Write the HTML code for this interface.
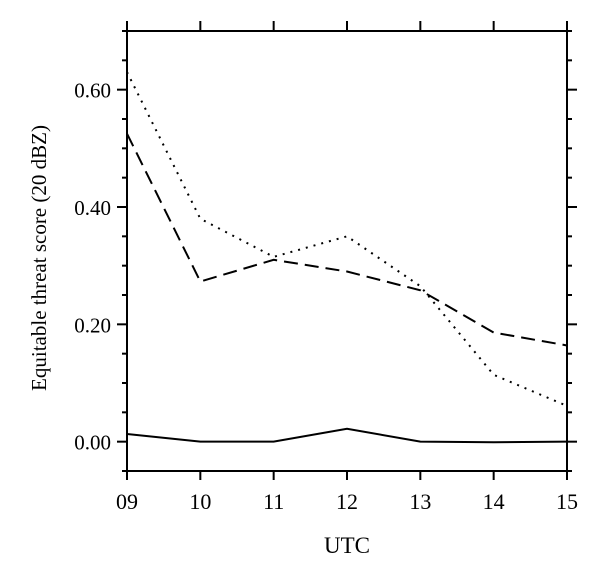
<!DOCTYPE html>
<html><head><meta charset="utf-8"><style>
body{margin:0;background:#fff;}
text{font-family:"Liberation Serif",serif;fill:#000;}
</style></head><body>
<svg width="600" height="578" viewBox="0 0 600 578">
<g id="axes"></g>
<g id="series"></g>
<text transform="translate(46,258) rotate(-90)" text-anchor="middle" style="font-size:21px">Equitable threat score (20 dBZ)</text>
<text x="347" y="553" text-anchor="middle" style="font-size:23px">UTC</text>
</svg>
<script>
const categories=["09","10","11","12","13","14","15"];
const dotted=[0.63,0.38,0.315,0.35,0.265,0.114,0.061];
const dashed=[0.525,0.273,0.31,0.29,0.258,0.186,0.164];
const solid=[0.013,0,0,0.022,0,-0.001,0];
const yTicks=[0,0.2,0.4,0.6];
const yTickLabels=["0.00","0.20","0.40","0.60"];
const yMin=-0.05,yMax=0.70;
const L=127,R=567,T=31,B=471;
const NS="http://www.w3.org/2000/svg";
function xs(i){return L+(R-L)*i/(categories.length-1);}
function ys(v){return B-(B-T)*(v-yMin)/(yMax-yMin);}
function mk(tag,attrs,parent){const e=document.createElementNS(NS,tag);for(const k in attrs)e.setAttribute(k,attrs[k]);parent.appendChild(e);return e;}
const ax=document.getElementById('axes');
const frame=mk('rect',{x:L,y:T,width:R-L,height:B-T,fill:'none',stroke:'#000','stroke-width':2},ax);


categories.forEach((c,i)=>{
  const x=xs(i);
  const t1=mk('line',{x1:x,x2:x,y1:B,y2:B+9,stroke:'#000','stroke-width':2},ax);
  
  
  const t2=mk('line',{x1:x,x2:x,y1:T,y2:T-10,stroke:'#000','stroke-width':2},ax);
  
  
  const lb=mk('text',{x:x,y:509,'text-anchor':'middle',style:'font-size:22px'},ax);
  lb.textContent=c;
  
  
});
for(let k=0;k<=15;k++){
  const v=yMin+k*0.05;const y=ys(v);
  const major=k%4===1;
  const len=major?10:5;
  const a=mk('line',{x1:L-len,x2:L,y1:y,y2:y,stroke:'#000','stroke-width':2},ax);
  
  
  const b=mk('line',{x1:R,x2:R+len,y1:y,y2:y,stroke:'#000','stroke-width':2},ax);
  
  
}
yTicks.forEach((v,i)=>{
  const lb=mk('text',{x:111,y:ys(v)+8,'text-anchor':'end',style:'font-size:21px'},ax);
  lb.textContent=yTickLabels[i];
  
  
});
const sg=document.getElementById('series');
function line(data,dash,name,w){
  const p=mk('polyline',{points:data.map((v,i)=>xs(i)+','+ys(v)).join(' '),fill:'none',stroke:'#000','stroke-width':w,'stroke-dasharray':dash},sg);
  
  
}
line(dotted,'2 6','series-dotted',2);
line(dashed,'14 7','series-dashed',2);
line(solid,'none','series-solid',2);
</script>
</body></html>
